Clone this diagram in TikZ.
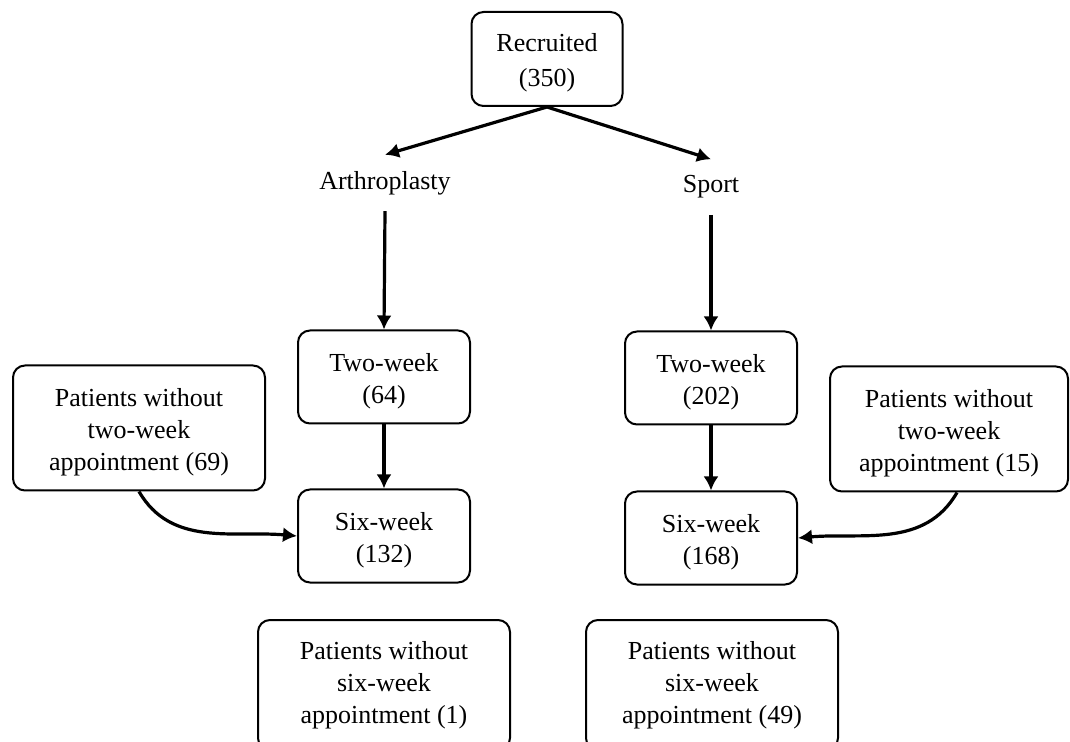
\documentclass[tikz,border=0pt]{standalone}
\usepackage{fontspec}
\setmainfont{Liberation Serif}
\usetikzlibrary{positioning,arrows.meta}
\newcommand\lift{\rule{0pt}{13pt}}

\begin{document}
\begin{tikzpicture}[x=0.5pt,y=-0.5pt,font=\fontsize{13}{16}\selectfont,
  box/.style={draw,rounded corners=6pt,line width=1pt,align=center,inner sep=0pt},
  wk/.style={minimum width=86pt,minimum height=46.5pt},
  miss/.style={minimum width=126pt,minimum height=62.5pt},
  grp/.style={inner sep=8pt},
  arr/.style={-{Latex[length=7pt,width=7.5pt]},line width=1.6pt}]
  \useasboundingbox (0,0) rectangle (1070,742);
  \node (rec) [box,minimum width=75.5pt,minimum height=47pt] at (547,59) {\lift Recruited\\[1.5pt](350)};
  \node (arth) [grp] at (385,183) {Arthroplasty};
  \node (sport) [grp] at (711,187) {Sport};
  \node (two1) [box,wk] at (384,377) {\lift Two-week\\(64)};
  \node (six1) [box,wk] at (384,536) {\lift Six-week\\(132)};
  \node (two2) [box,wk] at (711,378) {\lift Two-week\\(202)};
  \node (six2) [box,wk] at (711,538) {\lift Six-week\\(168)};
  \node (miss1) [box,miss] at (139,428) {\lift Patients without\\two-week\\appointment (69)};
  \node (miss2) [box,miss,minimum width=119pt] at (949,429) {\lift Patients without\\two-week\\appointment (15)};
  % bottom boxes run off the page
  \node (gone1) [box,miss,minimum height=65pt] at (384,685) {Patients without\\six-week\\appointment (1)};
  \node (gone2) [box,miss,minimum height=65pt] at (712,685) {Patients without\\six-week\\appointment (49)};
  \draw[arr] (rec.south) -- (arth.north);
  \draw[arr] (rec.south) -- (sport.north);
  \draw[arr] (arth.south) -- (two1.north);
  \draw[arr] (sport.south) -- (two2.north);
  \draw[arr] (two1.south) -- (six1.north);
  \draw[arr] (two2.south) -- (six2.north);
  \draw[arr] (miss1.south) to[out=-60,in=175] (six1.west);
  \draw[arr] ([xshift=4pt]miss2.south) to[out=-120,in=5] (six2.east);
\end{tikzpicture}
\end{document}
